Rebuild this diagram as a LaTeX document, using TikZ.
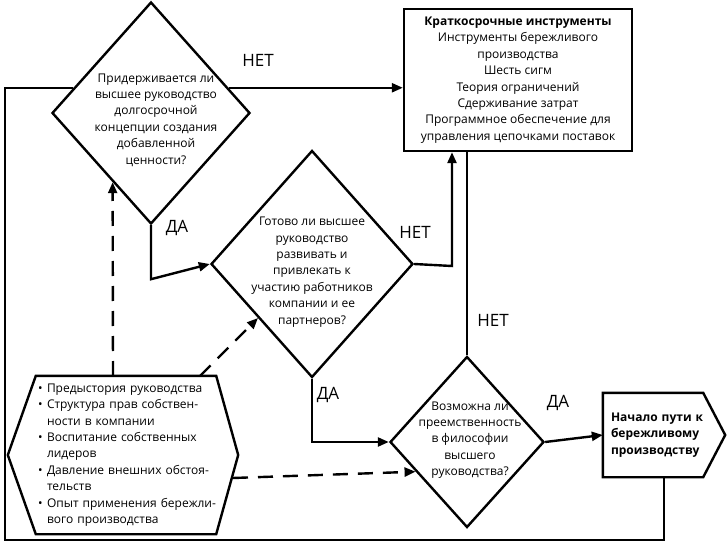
\documentclass[tikz,border=0pt]{standalone}
\usepackage{fontspec}
\setmainfont{Open Sans}
\usetikzlibrary{shapes.geometric,arrows.meta,calc}
\newcommand\hb{\makebox[9pt][l]{•}}
\newcommand\hs{\hspace*{9pt}}
\newcommand\hl[1]{\makebox[167pt][l]{#1}}
\newcommand\hj[1]{\makebox[167pt][s]{#1}}
\begin{document}
\begin{tikzpicture}[x=1pt,y=-1pt,
  every node/.style={font=\fontsize{12}{16.4}\selectfont,inner sep=0pt},
  ln/.style={line width=2.4pt},
  arr/.style={ln,-{Triangle[length=11pt,width=9pt]}},
  dsh/.style={arr,dash pattern=on 15pt off 10pt},
  dia/.style={diamond,draw,ln,inner sep=0pt},
  txt/.style={align=center},
  lbl/.style={font=\fontsize{17}{20}\selectfont}]
\useasboundingbox (0,0) rectangle (728,545);

% diamonds
\node[dia,minimum width=198pt,minimum height=222pt] (D1) at (151,113) {};
\node[dia,minimum width=202pt,minimum height=227pt] (D2) at (312,264) {};
\node[dia,minimum width=154pt,minimum height=171pt] (D3) at (467,442) {};
\node[txt] (t1) at (156,120) {Придерживается ли\\высшее руководство\\долгосрочной\\концепции создания\\добавленной\\ценности?};
\node[txt] (t2) at (312,272) {Готово ли высшее\\руководство\\развивать и\\привлекать к\\участию работников\\компании и ее\\партнеров?};
\node[txt] (t3) at (470,440) {Возможна ли\\преемственность\\в философии\\высшего\\руководства?};

% short-term tools box
\node[draw,ln,txt,minimum width=228pt,minimum height=142pt] (box1) at (518,80)
 {{\bfseries Краткосрочные инструменты}\\Инструменты бережливого\\производства\\Шесть сигм\\Теория ограничений\\Сдерживание затрат\\Программное обеспечение для\\управления цепочками поставок};

% start box (pentagon)
\node[align=left,text width=84pt,minimum width=100pt,minimum height=84pt] (nach) at (653,435)
 {\bfseries \mbox{Начало пути к}\\\mbox{бережливому}\\\mbox{производству}};
\draw[ln] (nach.north west) -- (nach.north east) -- ($(nach.east)+(22,0)$) -- (nach.south east) -- (nach.south west) -- cycle;

% hexagon with factors
\node[align=left,text width=176pt,minimum width=180pt,minimum height=158pt] (hex) at (126,455)
 {\hb\hl{Предыстория руководства}\\
  \hb\hj{Структура прав собствен-}\\
  \hs\hl{ности в компании}\\
  \hb\hj{Воспитание собственных}\\
  \hs\hl{лидеров}\\
  \hb\hj{Давление внешних обстоя-}\\
  \hs\hl{тельств}\\
  \hb\hl{Опыт применения бережли-}\\
  \hs\hl{вого производства}};
\draw[ln] (hex.north west) -- (hex.north east) -- ($(hex.east)+(22,0)$) -- (hex.south east) -- (hex.south west) -- ($(hex.west)+(-28,0)$) -- cycle;

% coordinates
\coordinate (ns) at ($(nach.south)+(11,0)$);
\coordinate (lp) at (5,540);
\coordinate (k1) at (452,266);
\coordinate (h1) at (113,376);
\coordinate (h2) at (200,376);
\coordinate (h3) at (233,478);

% connectors
\draw[ln] (ns) |- (lp) |- (D1.162);
\draw[arr] (D1.18) -- (D1.18 -| box1.west);
\draw[arr] (D1.south) -- ++(0,54) -- (D2.west);
\draw[arr] (D2.east) -- (k1) -- (k1 |- box1.south);
\draw[ln] (D3.north) -- (D3.north |- box1.south);
\draw[arr] (D2.south) |- (D3.west);
\draw[arr] (D3.east) -- (nach.west);
\draw[dsh] (h1) -- (D1.241);
\draw[dsh] (h2) -- (D2.225);
\draw[dsh] (h3) -- (D3.210);

% labels
\node[lbl] (n1) at (258,60) {НЕТ};
\node[lbl] (n2) at (415,232) {НЕТ};
\node[lbl] (n3) at (493,320) {НЕТ};
\node[lbl] (y1) at (177,228) {ДА};
\node[lbl] (y2) at (328,395) {ДА};
\node[lbl] (y3) at (558,403) {ДА};
\end{tikzpicture}
\end{document}
